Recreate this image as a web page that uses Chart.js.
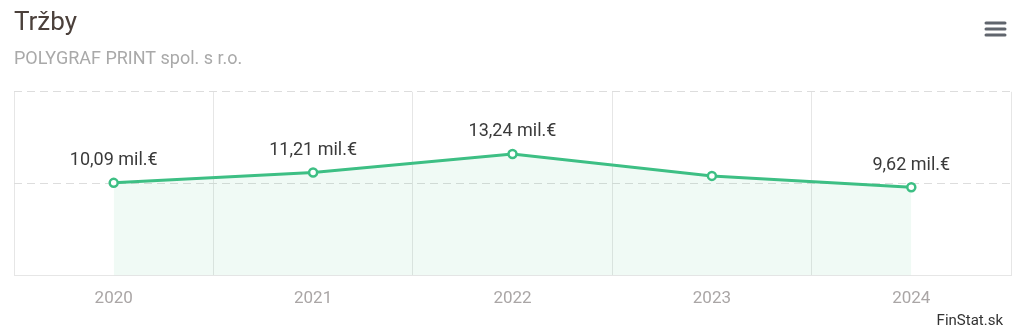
<!DOCTYPE html>
<html>
<head>
<meta charset="utf-8">
<script src="https://cdn.jsdelivr.net/npm/chart.js@4/dist/chart.umd.min.js"></script>
<style>
  body { margin: 0; background: #fff; }
  #wrap { width: 1024px; height: 336px; position: relative; }
</style>
</head>
<body>
<div id="wrap"><canvas id="trzby-chart"></canvas></div>
<script>
// data
var years = ["2020", "2021", "2022", "2023", "2024"];
var revenue = [10.09, 11.21, 13.24, 10.85, 9.62];   // mil. €
var showLabel = [true, true, true, false, true];
var yTicks = [0, 10, 20];

var lineColor = "#3dbf84";

function fmt(v) {
    return v.toFixed(2).replace(".", ",") + " mil.€";
}

// value labels above points, hamburger icon and credit text
var extras = {
    id: "extras",
    afterDatasetsDraw: function(chart) {
        var ctx = chart.ctx;
        var meta = chart.getDatasetMeta(0);
        ctx.save();
        ctx.font = "18px Roboto";
        ctx.fillStyle = "#3a3a3a";
        ctx.textAlign = "center";
        ctx.textBaseline = "middle";
        meta.data.forEach(function(pt, i) {
            if (!showLabel[i]) return;
            ctx.fillText(fmt(revenue[i]), pt.x, pt.y - 22);
        });
        ctx.restore();
    },
    afterDraw: function(chart) {
        var ctx = chart.ctx;
        ctx.save();
        // menu icon
        ctx.strokeStyle = "#60656d";
        ctx.lineWidth = 3;
        ctx.lineCap = "round";
        [23, 29, 35].forEach(function(y) {
            ctx.beginPath();
            ctx.moveTo(986, y);
            ctx.lineTo(1005, y);
            ctx.stroke();
        });
        // credit
        ctx.font = "15px Roboto";
        ctx.fillStyle = "#333";
        ctx.textAlign = "right";
        ctx.textBaseline = "middle";
        ctx.fillText("FinStat.sk", 1003, 321);
        ctx.restore();
    }
};

var ctx1 = document.getElementById("trzby-chart");

var chart1 = new Chart(ctx1, {
    type: "line",
    data: {
        labels: years,
        datasets: [{
            label: "Tržby",
            data: revenue,
            borderColor: lineColor,
            borderWidth: 3,
            backgroundColor: "rgba(61,191,132,0.08)",
            fill: "origin",
            tension: 0,
            pointRadius: 4,
            pointBorderWidth: 2.5,
            pointBackgroundColor: "#fff",
            pointBorderColor: lineColor
        }]
    },
    options: {
        responsive: true,
        maintainAspectRatio: false,
        animation: false,
        layout: {
            padding: { left: 14, right: 13, top: 0, bottom: 14 }
        },
        plugins: {
            legend: { display: false },
            tooltip: { enabled: false },
            title: {
                display: true,
                text: "Tržby",
                align: "start",
                color: "#4b403b",
                font: { family: "Roboto", size: 26, weight: "normal" },
                padding: { top: 8, bottom: 9 }
            },
            subtitle: {
                display: true,
                text: "POLYGRAF PRINT spol. s r.o.",
                align: "start",
                color: "#a9a9a9",
                font: { family: "Roboto", size: 18 },
                padding: { top: 0, bottom: 22 }
            }
        },
        scales: {
            x: {
                offset: true,
                grid: {
                    offset: true,
                    color: "#e6e6e6",
                    drawTicks: false
                },
                border: { display: true, color: "#e6e6e6" },
                ticks: {
                    color: "#aaa6a6",
                    font: { family: "Roboto", size: 17 },
                    padding: 13
                }
            },
            y: {
                min: 0,
                max: 20,
                afterBuildTicks: function(axis) {
                    axis.ticks = yTicks.map(function(v) { return { value: v }; });
                },
                grid: {
                    color: "#dddddd",
                    drawTicks: false
                },
                border: { display: false, dash: [8, 5] },
                ticks: { display: false }
            }
        }
    },
    plugins: [extras]
});
</script>
</body>
</html>
